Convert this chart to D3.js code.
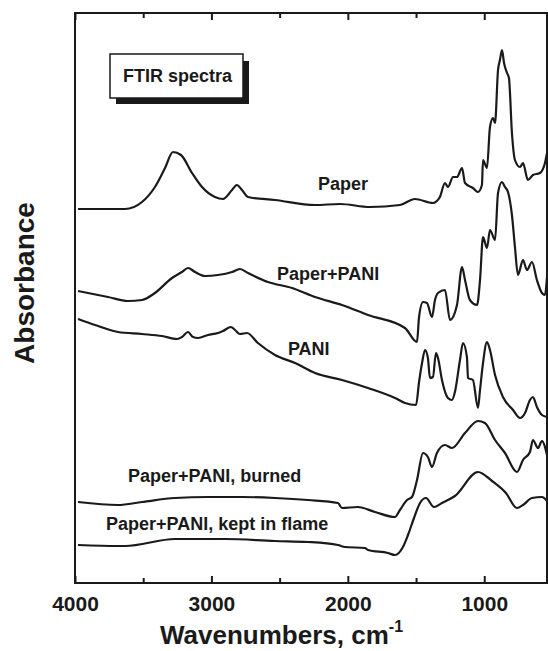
<!DOCTYPE html>
<html>
<head>
<meta charset="utf-8">
<script src="https://cdn.jsdelivr.net/npm/d3@7"></script>
<style>
  body { margin: 0; background: #fff; }
  svg { display: block; font-family: "Liberation Sans", Arial, sans-serif; }
  .spectrum { fill: none; stroke: #1a1a1a; stroke-width: 2.2; stroke-linejoin: round; }
  .axis path { display: none; }
  .axis line { stroke: #1a1a1a; stroke-width: 2; }
  .axis text { font-size: 21px; font-weight: bold; fill: #1a1a1a; }
  .lbl { font-size: 18px; font-weight: bold; fill: #1a1a1a; }
</style>
</head>
<body>
<div id="chart"></div>
<script>
// spectra: [wavenumber cm-1, absorbance (a.u., offset)]
const paper = [
  [3978,3.74],[3633,3.74],[3509,3.81],[3414,3.96],[3340,4.15],[3282,4.31],[3223,4.28],
  [3142,4.10],[3069,3.96],[2974,3.86],[2915,3.84],[2849,3.93],[2813,3.98],[2776,3.93],
  [2732,3.86],[2534,3.83],[2241,3.78],[2058,3.79],[1838,3.76],[1618,3.78],[1508,3.84],
  [1376,3.80],[1325,3.86],[1288,4.00],[1266,3.96],[1229,4.06],[1200,4.06],[1163,4.15],
  [1141,4.00],[1083,3.95],[1046,3.91],[1017,3.98],[1009,4.23],[980,4.15],[958,4.56],
  [936,4.65],[921,4.60],[899,5.13],[885,5.23],[870,5.33],[855,5.20],[833,5.10],
  [819,5.05],[797,4.50],[775,4.23],[738,4.16],[716,4.20],[680,4.03],[643,4.08],
  [592,4.10],[555,4.20],[540,4.30]
];
const paperPani = [
  [3978,2.92],[3758,2.86],[3612,2.82],[3509,2.83],[3414,2.90],[3289,3.05],[3216,3.11],
  [3172,3.15],[3120,3.11],[3047,3.07],[2952,3.08],[2849,3.11],[2791,3.14],[2732,3.10],
  [2585,3.01],[2409,2.95],[2241,2.86],[2043,2.78],[1852,2.68],[1581,2.55],[1493,2.41],
  [1478,2.66],[1449,2.81],[1420,2.80],[1383,2.66],[1361,2.83],[1339,2.90],[1288,2.93],
  [1251,2.63],[1200,2.78],[1163,3.16],[1141,3.03],[1105,2.83],[1053,2.78],[1031,3.03],
  [1009,3.46],[980,3.35],[958,3.53],[921,3.43],[899,3.90],[870,4.01],[848,3.96],
  [826,3.91],[797,3.68],[775,3.36],[753,3.08],[716,3.23],[687,3.13],[650,3.21],
  [614,3.03],[577,2.90],[555,2.88],[540,3.06]
];
const pani = [
  [3978,2.64],[3853,2.58],[3685,2.51],[3509,2.49],[3362,2.47],[3252,2.44],[3216,2.46],
  [3172,2.51],[3135,2.46],[3098,2.45],[3025,2.48],[2952,2.50],[2915,2.52],[2857,2.56],
  [2827,2.53],[2791,2.49],[2739,2.50],[2659,2.40],[2534,2.28],[2387,2.20],[2241,2.10],
  [2043,2.03],[1852,1.95],[1654,1.85],[1581,1.80],[1500,1.78],[1478,2.01],[1456,2.20],
  [1434,2.33],[1413,2.25],[1398,2.05],[1376,2.06],[1354,2.30],[1339,2.25],[1310,2.03],
  [1266,1.85],[1237,1.83],[1215,1.91],[1178,2.23],[1156,2.40],[1127,2.26],[1119,2.05],
  [1083,2.03],[1046,1.75],[1031,1.93],[1009,2.20],[980,2.41],[958,2.33],[921,2.08],
  [863,1.86],[789,1.73],[738,1.65],[701,1.70],[665,1.83],[643,1.86],[614,1.76],
  [577,1.68],[540,1.66]
];
const burned = [
  [3978,0.81],[3685,0.78],[3509,0.81],[3267,0.85],[3025,0.86],[2776,0.86],[2534,0.85],
  [2292,0.83],[2072,0.80],[2043,0.75],[1926,0.76],[1801,0.71],[1654,0.66],[1618,0.73],
  [1566,0.83],[1530,0.86],[1493,1.03],[1449,1.30],[1413,1.26],[1383,1.16],[1347,1.30],
  [1288,1.38],[1237,1.35],[1141,1.50],[1046,1.62],[995,1.60],[921,1.43],[848,1.30],
  [760,1.11],[716,1.23],[665,1.31],[643,1.43],[606,1.35],[577,1.42],[540,1.28]
];
const keptInFlame = [
  [3978,0.38],[3685,0.37],[3633,0.37],[3267,0.44],[2900,0.44],[2534,0.42],[2292,0.41],
  [2072,0.38],[2021,0.36],[1874,0.35],[1852,0.33],[1706,0.30],[1654,0.28],[1596,0.36],
  [1559,0.48],[1515,0.65],[1471,0.80],[1427,0.85],[1369,0.76],[1310,0.80],[1215,0.87],
  [1046,1.11],[943,1.02],[841,0.90],[760,0.75],[716,0.78],[650,0.85],[577,0.86],[540,0.82]
];

const seriesList = [paper, paperPani, pani, burned, keptInFlame];
const seriesNames = ['Paper', 'Paper+PANI', 'PANI', 'Paper+PANI, burned', 'Paper+PANI, kept in flame'];
// label anchor: [wavenumber, absorbance]
const labelPos = [[2219, 3.93], [2519, 3.03], [2439, 2.28], [3611, 1.01], [3773, 0.53]];

const majorTicks = [4000, 3000, 2000, 1000];
const minorTicks = [3500, 2500, 1500];

const W = 548, H = 651;
const margin = {top: 13, right: 1, bottom: 68, left: 75};

const svg = d3.select('#chart').append('svg')
  .attr('width', W)
  .attr('height', H);

const x = d3.scaleLinear()
  .domain([4000, 540])
  .range([margin.left, W - margin.right]);

const y = d3.scaleLinear()
  .domain([0, 5.7])
  .range([H - margin.bottom, margin.top]);

const line = d3.line()
  .curve(d3.curveMonotoneX)
  .x(d => x(d[0]))
  .y(d => y(d[1]));

svg.append('g')
  .selectAll('path')
  .data(seriesList)
  .enter().append('path')
    .attr('class', 'spectrum')
    .attr('d', line);

// frame
svg.append('rect')
  .attr('x', margin.left)
  .attr('y', margin.top)
  .attr('width', W - margin.right - margin.left)
  .attr('height', H - margin.bottom - margin.top)
  .style('fill', 'none')
  .style('stroke', '#1a1a1a')
  .style('stroke-width', 2);

// axes, ticks point inward
const bottom = H - margin.bottom;
svg.append('g')
  .attr('class', 'axis')
  .attr('transform', `translate(0,${bottom})`)
  .call(d3.axisBottom(x).tickValues(majorTicks).tickSize(-7).tickPadding(13).tickFormat(d3.format('d')));
svg.append('g')
  .attr('class', 'axis')
  .attr('transform', `translate(0,${bottom})`)
  .call(d3.axisBottom(x).tickValues(minorTicks).tickSize(-5).tickFormat(''));
svg.append('g')
  .attr('class', 'axis')
  .attr('transform', `translate(0,${margin.top})`)
  .call(d3.axisTop(x).tickValues(majorTicks).tickSize(-7).tickFormat(''));
svg.append('g')
  .attr('class', 'axis')
  .attr('transform', `translate(0,${margin.top})`)
  .call(d3.axisTop(x).tickValues(minorTicks).tickSize(-5).tickFormat(''));

// series labels
svg.append('g')
  .selectAll('text')
  .data(seriesNames)
  .enter().append('text')
    .attr('class', 'lbl')
    .attr('x', (d, i) => x(labelPos[i][0]))
    .attr('y', (d, i) => y(labelPos[i][1]))
    .text(d => d);

// FTIR spectra box with drop shadow
svg.append('rect')
  .attr('x', 116).attr('y', 61).attr('width', 133).attr('height', 43)
  .style('fill', '#1a1a1a');
svg.append('rect')
  .attr('x', 110).attr('y', 54).attr('width', 133).attr('height', 44)
  .style('fill', '#fff')
  .style('stroke', '#1a1a1a')
  .style('stroke-width', 1.5);
svg.append('text')
  .attr('class', 'lbl')
  .attr('x', 123).attr('y', 82)
  .text('FTIR spectra');

// axis titles
svg.append('text')
  .attr('transform', 'translate(34,283) rotate(-90)')
  .attr('text-anchor', 'middle')
  .style('font-size', '28px')
  .style('font-weight', 'bold')
  .style('fill', '#1a1a1a')
  .text('Absorbance');

const xt = svg.append('text')
  .attr('x', 160).attr('y', 644)
  .style('font-size', '26px')
  .style('font-weight', 'bold')
  .style('fill', '#1a1a1a');
xt.append('tspan').text('Wavenumbers, cm');
xt.append('tspan').attr('dy', -12).style('font-size', '16px').text('-1');
</script>
</body>
</html>
